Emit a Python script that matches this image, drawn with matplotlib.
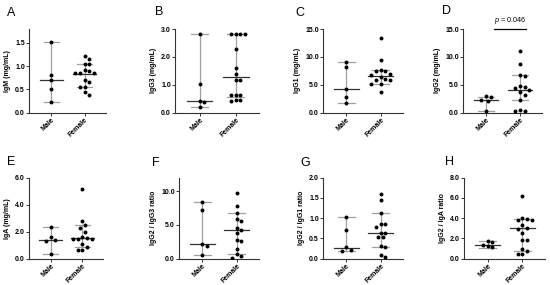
import numpy as np
import matplotlib
matplotlib.use("Agg")
import matplotlib.pyplot as plt

plt.rcParams['font.family'] = ['Liberation Sans', 'DejaVu Sans']
plt.rcParams['mathtext.fontset'] = 'custom'
plt.rcParams['mathtext.it'] = 'Liberation Sans:italic'
plt.rcParams['mathtext.rm'] = 'Liberation Sans'

GROUPS = ['Male', 'Female']

# values, one pair of lists per panel
IGM_MALE = [1.53, 0.80, 0.69, 0.50, 0.22]
IGM_FEMALE = [1.21, 1.15, 1.04, 1.04, 0.91, 0.89, 0.85, 0.85, 0.85, 0.71, 0.65, 0.56, 0.56, 0.45, 0.38]
IGG3_MALE = [2.83, 1.02, 0.43, 0.37, 0.19]
IGG3_FEMALE = [2.83, 2.83, 2.83, 2.83, 2.28, 1.60, 1.38, 1.18, 1.18, 0.62, 0.62, 0.62, 0.45, 0.45, 0.40]
IGG1_MALE = [9.1, 8.2, 4.2, 2.8, 1.75]
IGG1_FEMALE = [13.4, 9.5, 7.6, 7.45, 7.45, 7.0, 6.8, 6.3, 5.95, 5.9, 5.9, 5.2, 5.2, 3.6]
IGG2_MALE = [2.9, 2.85, 2.2, 2.1, 0.3]
IGG2_FEMALE = [11.0, 8.8, 6.8, 6.6, 4.8, 4.5, 4.4, 4.0, 3.6, 3.1, 2.2, 0.5, 0.35, 0.35]
IGA_MALE = [2.32, 1.58, 1.38, 1.33, 0.35]
IGA_FEMALE = [5.18, 2.81, 2.47, 2.25, 1.98, 1.63, 1.52, 1.48, 1.43, 1.43, 1.09, 0.84, 0.64, 0.64]
G2G3_MALE = [8.4, 7.25, 2.16, 1.86, 0.6]
G2G3_FEMALE = [9.75, 7.85, 6.75, 5.83, 5.54, 4.56, 4.25, 3.82, 2.75, 2.6, 1.42, 0.64, 0.4, 0.1]
G2G1_MALE = [1.02, 0.71, 0.28, 0.21, 0.19]
G2G1_FEMALE = [1.59, 1.45, 1.14, 0.86, 0.86, 0.79, 0.64, 0.64, 0.53, 0.53, 0.31, 0.30, 0.08, 0.03]
G2A_MALE = [1.71, 1.65, 1.35, 1.21, 1.14]
G2A_FEMALE = [6.18, 4.0, 3.97, 3.83, 3.83, 3.3, 3.06, 2.96, 2.55, 1.82, 1.82, 1.0, 0.77, 0.47, 0.47]

# median, Q1, Q3 as drawn (male, female)
IGM_STATS = [(0.69, 0.22, 1.53), (0.84, 0.56, 1.04)]
IGG3_STATS = [(0.43, 0.19, 2.83), (1.26, 0.55, 2.83)]
IGG1_STATS = [(4.2, 1.75, 9.1), (6.6, 5.2, 7.55)]
IGG2_STATS = [(2.2, 0.35, 2.85), (4.0, 2.2, 6.7)]
IGA_STATS = [(1.38, 0.35, 2.32), (1.5, 0.84, 2.47)]
G2G3_STATS = [(2.2, 0.6, 8.4), (4.25, 0.7, 6.75)]
G2G1_STATS = [(0.27, 0.19, 1.02), (0.63, 0.30, 1.14)]
G2A_STATS = [(1.35, 1.05, 1.71), (3.03, 0.77, 3.9)]

LETTERS = ['A', 'B', 'C', 'D', 'E', 'F', 'G', 'H']
YLABELS = ['IgM (mg/mL)', 'IgG3 (mg/mL)', 'IgG1 (mg/mL)', 'IgG2 (mg/mL)',
           'IgA (mg/mL)', 'IgG2 / IgG3 ratio', 'IgG2 / IgG1 ratio', 'IgG2 / IgA ratio']
YTICKS = [[0, 0.5, 1.0, 1.5], [0, 1, 2, 3], [0, 5, 10, 15], [0, 5, 10, 15],
          [0, 2, 4, 6], [0, 5, 10], [0, 0.5, 1.0, 1.5, 2.0], [0, 2, 4, 6, 8]]
YMAX = [1.8, 3.0, 15, 15, 6, 12, 2.0, 8]

PANELS = [
    (IGM_MALE, IGM_FEMALE, IGM_STATS),
    (IGG3_MALE, IGG3_FEMALE, IGG3_STATS),
    (IGG1_MALE, IGG1_FEMALE, IGG1_STATS),
    (IGG2_MALE, IGG2_FEMALE, IGG2_STATS),
    (IGA_MALE, IGA_FEMALE, IGA_STATS),
    (G2G3_MALE, G2G3_FEMALE, G2G3_STATS),
    (G2G1_MALE, G2G1_FEMALE, G2G1_STATS),
    (G2A_MALE, G2A_FEMALE, G2A_STATS),
]

W, H = 550, 285
# axes boxes in pixels: left, top, right, bottom
BOXES = [(29, 29, 106, 112.5), (175, 29, 259, 112.5), (323, 29, 403, 112.5), (463, 29, 542, 112.5),
         (29, 177.7, 103, 258.7), (179, 177.7, 259, 258.7), (323, 177.7, 403, 258.7), (464, 177.7, 545, 258.7)]
LETTER_POS = [(7, 7), (155, 6), (295, 7), (442, 5), (7, 156), (152, 157), (300, 157), (445, 156)]
XLIM = (-0.68, 1.65)
COLLIDE_PX = 4.6


def swarm(values, px_y, px_x):
    """simple beeswarm: push points sideways until they don't overlap"""
    vals = np.asarray(values, dtype=float)
    offs = np.zeros(len(vals))
    placed = []
    step = COLLIDE_PX * 0.5
    cands = [0.0]
    for k in range(1, 30):
        cands += [k * step, -k * step]
    for i in np.argsort(-vals):
        y = vals[i] * px_y
        for c in cands:
            if all((c - px) ** 2 + (y - py) ** 2 >= COLLIDE_PX ** 2 for px, py in placed):
                break
        placed.append((c, y))
        offs[i] = c / px_x
    return offs


fig = plt.figure(figsize=(W / 100, H / 100), dpi=100)

for n, (male, female, stats) in enumerate(PANELS):
    l, t, r, b = BOXES[n]
    ax = fig.add_axes([l / W, 1 - b / H, (r - l) / W, (b - t) / H])
    ax.set_xlim(*XLIM)
    ax.set_ylim(0, YMAX[n])
    px_y = (b - t) / YMAX[n]
    px_x = (r - l) / (XLIM[1] - XLIM[0])

    for g, vals in enumerate([male, female]):
        med, q1, q3 = stats[g]
        ax.plot([g, g], [q1, q3], color='#a0a0a0', lw=0.9, zorder=1)
        ax.plot([g - 0.24, g + 0.24], [q1, q1], color='#a0a0a0', lw=0.9, zorder=1)
        ax.plot([g - 0.24, g + 0.24], [q3, q3], color='#a0a0a0', lw=0.9, zorder=1)
        ax.plot([g - 0.36, g + 0.36], [med, med], color='#333333', lw=0.9, zorder=2)
        xs = g + swarm(vals, px_y, px_x)
        ax.scatter(xs, vals, s=8, color='black', zorder=3, linewidths=0)

    ax.set_xticks([0, 1])
    ax.set_xticklabels(GROUPS, rotation=45, ha='right', rotation_mode='anchor',
                       fontsize=5, fontweight='bold')
    ax.set_yticks(YTICKS[n])
    ax.set_yticklabels(['%.1f' % v for v in YTICKS[n]], fontsize=5, fontweight='bold')
    ax.set_ylabel(YLABELS[n], fontsize=5, fontweight='bold', labelpad=3)
    ax.tick_params(length=2, width=0.7, pad=1, color='#333333')
    for s in ['top', 'right']:
        ax.spines[s].set_visible(False)
    for s in ['left', 'bottom']:
        ax.spines[s].set_linewidth(0.8)
        ax.spines[s].set_color('#333333')

    lx, ly = LETTER_POS[n]
    fig.text(lx / W, 1 - ly / H, LETTERS[n], fontsize=9, va='top', ha='left')

    if LETTERS[n] == 'D':
        ax.plot([0.24, 1.19], [15, 15], color='black', lw=0.9, clip_on=False)
        ax.annotate(r'$p$ = 0.046', xy=(0.715, 15), xytext=(0, 2.5), textcoords='offset points',
                    ha='center', va='bottom', fontsize=5.2, annotation_clip=False)

fig.savefig('out.png', dpi=100)
